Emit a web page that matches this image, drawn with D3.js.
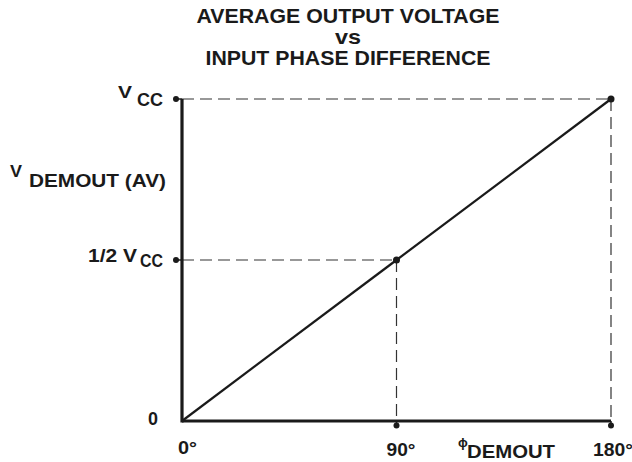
<!DOCTYPE html>
<html><head><meta charset="utf-8">
<script src="https://cdn.jsdelivr.net/npm/d3@7"></script>
<style>body{margin:0;background:#fff}svg{display:block}text{font-family:"Liberation Sans",Arial,sans-serif;font-weight:bold;fill:#1a1a1a}</style>
</head><body>
<script>
const xTicks = [0, 90, 180];
const xTickLabels = ["0°", "90°", "180°"];
const yTicks = [0, 0.5, 1];
const yTickLabels = ["0", "1/2 V", "V"];
const lineX = [0, 90, 180];
const lineY = [0, 0.5, 1];
const titleLines = ["AVERAGE OUTPUT VOLTAGE", "vs", "INPUT PHASE DIFFERENCE"];

const W = 632, H = 462;
const svg = d3.select("body").append("svg").attr("width", W).attr("height", H);
const x = d3.scaleLinear().domain([0, 180]).range([182, 611]);
const y = d3.scaleLinear().domain([0, 1]).range([421, 99]);

function txt(xp, yp, s, size, anchor, len) {
  const t = svg.append("text").attr("x", xp).attr("y", yp).attr("font-size", size)
    .attr("text-anchor", anchor || "start").text(s);
  if (len) t.attr("textLength", len).attr("lengthAdjust", "spacingAndGlyphs");
  return t;
}

// title
const tb = [23, 44, 65], tl = [303, 26, 285];
titleLines.forEach((d, i) => txt(348, tb[i], d, 21, "middle", tl[i]));

// dashed guides
const pts = lineX.map((v, i) => [v, lineY[i]]).filter(p => p[0] > 0);
pts.forEach(p => {
  svg.append("line").attr("x1", x(0)).attr("x2", x(p[0])).attr("y1", y(p[1])).attr("y2", y(p[1]))
    .attr("stroke", "#333").attr("stroke-width", 1.2).attr("stroke-dasharray", "12,6");
  svg.append("line").attr("x1", x(p[0])).attr("x2", x(p[0])).attr("y1", y(p[1])).attr("y2", y(0))
    .attr("stroke", "#333").attr("stroke-width", 1.2).attr("stroke-dasharray", "12,6");
});

// data line
svg.append("path").datum(lineX.map((v, i) => [v, lineY[i]]))
  .attr("d", d3.line().x(d => x(d[0])).y(d => y(d[1])))
  .attr("fill", "none").attr("stroke", "#1a1a1a").attr("stroke-width", 2.2);

// axes
svg.append("line").attr("x1", x(0)).attr("x2", x(0)).attr("y1", y(1)).attr("y2", y(0) + 1.5)
  .attr("stroke", "#1a1a1a").attr("stroke-width", 3.2);
svg.append("line").attr("x1", x(0)).attr("x2", x(180)).attr("y1", y(0)).attr("y2", y(0))
  .attr("stroke", "#1a1a1a").attr("stroke-width", 3.2);

// dots
pts.forEach(p => svg.append("circle").attr("cx", x(p[0])).attr("cy", y(p[1])).attr("r", 3.5).attr("fill", "#1a1a1a"));
yTicks.filter(v => v > 0).forEach(v => {
  svg.append("line").attr("x1", x(0) - 6).attr("x2", x(0)).attr("y1", y(v)).attr("y2", y(v))
    .attr("stroke", "#1a1a1a").attr("stroke-width", 1.5);
  svg.append("circle").attr("cx", x(0) - 6).attr("cy", y(v)).attr("r", 3).attr("fill", "#1a1a1a");
});
xTicks.filter(v => v > 0).forEach(v => {
  svg.append("line").attr("x1", x(v)).attr("x2", x(v)).attr("y1", y(0)).attr("y2", y(0) + 4)
    .attr("stroke", "#1a1a1a").attr("stroke-width", 1.5);
  svg.append("circle").attr("cx", x(v)).attr("cy", y(0) + 4.5).attr("r", 3).attr("fill", "#1a1a1a");
});

// x tick labels
txt(178, 454, xTickLabels[0], 19, "start", 19);
txt(401, 456, xTickLabels[1], 19, "middle", 29);
txt(593, 456, xTickLabels[2], 19, "start", 40);
// x axis title
txt(458, 447, "ϕ", 13, "start").attr("font-weight", "normal").attr("font-family", "DejaVu Sans");
txt(467, 458, "DEMOUT", 19, "start", 88);

// y labels
txt(148, 425, yTickLabels[0], 18, "start", 10);
txt(118, 98, yTickLabels[2], 17, "start", 14);
txt(137, 106, "CC", 19, "start", 26);
txt(88, 262, yTickLabels[1], 18, "start", 49);
txt(140, 267, "CC", 19, "start", 23);
txt(10, 177, "V", 16, "start", 12);
txt(29, 187, "DEMOUT (AV)", 19, "start", 137);
</script>
</body></html>
